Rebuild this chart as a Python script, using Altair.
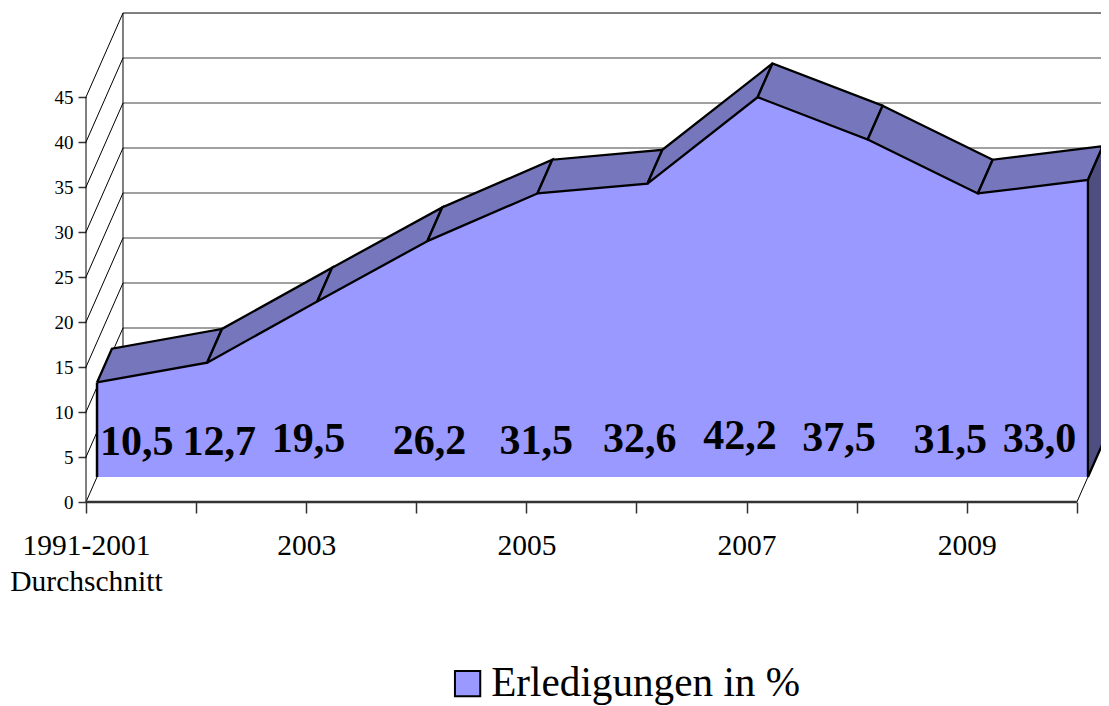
import json
import altair as alt
import pandas as pd

categories = ["1991-2001 Durchschnitt", "2002", "2003", "2004", "2005",
              "2006", "2007", "2008", "2009", "2010"]
values = [10.5, 12.7, 19.5, 26.2, 31.5, 32.6, 42.2, 37.5, 31.5, 33.0]
value_labels = ["10,5", "12,7", "19,5", "26,2", "31,5", "32,6", "42,2", "37,5", "31,5", "33,0"]
x_tick_labels = [["1991-2001", "Durchschnitt"], "", "2003", "", "2005", "", "2007", "", "2009", ""]
y_ticks = [0, 5, 10, 15, 20, 25, 30, 35, 40, 45]
series_name = "Erledigungen in %"

# where the value labels sit, in axis units
label_x = [0.46, 1.21, 2.02, 3.12, 4.09, 5.03, 5.94, 6.84, 7.85, 8.66]
label_y = [5.25, 5.25, 5.55, 5.35, 5.3, 5.55, 5.9, 5.65, 5.45, 5.55]

# oblique 3D projection, in axis units
DEPTH_X, DEPTH_Y = 0.336, 9.33
FRONT, BACK = 0.298, 0.70
SERIF = "Liberation Serif"
FACE, TOP, SIDE = "#9999FF", "#7676BC", "#4E4E80"
PLOT_W, PLOT_H = 1015, 489
X_MAX, Y_MAX = PLOT_W / 110.1, PLOT_H / 9.0
n = len(values)


def proj(i, v, d):
    return i + d * DEPTH_X, v + d * DEPTH_Y


def table(polys):
    rows = []
    for pid, pts in enumerate(polys):
        for o, (x, y) in enumerate(pts):
            rows.append({"poly": pid, "o": o, "x": x, "y": y})
    return pd.DataFrame(rows)


xs = alt.Scale(domain=[0, X_MAX], nice=False, zero=False)
ys = alt.Scale(domain=[0, Y_MAX], nice=False, zero=False)
x_axis = alt.Axis(
    values=list(range(n)), title=None, grid=False, domain=False,
    tickSize=11, tickColor="#333333", tickWidth=1.5,
    labelExpr=f"{json.dumps(x_tick_labels)}[datum.value]",
    labelFont=SERIF, labelFontSize=29.5, labelColor="black", labelPadding=18,
    labelOverlap=False, labelBound=False, labelFlush=False, labelLineHeight=36)
y_axis = alt.Axis(
    values=y_ticks, title=None, grid=False, domain=False,
    tickSize=8, tickColor="#333333", tickWidth=1.5,
    labelFont=SERIF, labelFontSize=19, labelColor="black", labelPadding=5,
    labelOverlap=False, labelBound=False)
X = alt.X("x:Q", scale=xs, axis=x_axis)
Y = alt.Y("y:Q", scale=ys, axis=y_axis, stack=None)


def lines(polys, **mark):
    return alt.Chart(table(polys)).mark_line(**mark).encode(
        x=X, y=Y, detail="poly:N", order=alt.Order("o:Q"),
    )


back_grid = lines([[proj(0, v, 1), (X_MAX, v + DEPTH_Y)] for v in y_ticks[:-1]],
                  stroke="#808080", strokeWidth=1.5)
wall_lines = lines(
    [[proj(0, v, 0), proj(0, v, 1)] for v in y_ticks]
    + [[proj(0, 0, 1), proj(0, y_ticks[-1], 1)],
       [proj(0, y_ticks[-1], 1), (X_MAX, y_ticks[-1] + DEPTH_Y)],
       [proj(0, 0, 0), proj(0, y_ticks[-1], 0)],
       [proj(n - 1, 0, 0), proj(n - 1, 0, 1)]],
    stroke="black", strokeWidth=1)
floor_line = lines([[(0, 0), (n - 1, 0)]], stroke="#333333", strokeWidth=2.5)

front_df = pd.DataFrame({
    "category": categories,
    "x": [proj(i, v, FRONT)[0] for i, v in enumerate(values)],
    "y": [proj(i, v, FRONT)[1] for i, v in enumerate(values)],
    "y2": [proj(i, 0, FRONT)[1] for i in range(n)],
    "series": series_name,
})
front = alt.Chart(front_df).mark_area(opacity=1).encode(
    x=X, y=Y, y2="y2:Q",
    color=alt.Color("series:N", scale=alt.Scale(range=[FACE]), legend=alt.Legend(
        title=None, orient="none", legendX=361, legendY=650, padding=0,
        symbolType="square", symbolSize=640, symbolStrokeColor="black",
        symbolStrokeWidth=2, symbolFillColor=FACE, symbolOpacity=1,
        labelFont=SERIF, labelFontSize=41.2, labelColor="black", labelLimit=500,
        labelOffset=3)),
)

quads = []
for i in range(n - 1):
    quads.append([proj(i, values[i], FRONT), proj(i + 1, values[i + 1], FRONT),
                  proj(i + 1, values[i + 1], BACK), proj(i, values[i], BACK),
                  proj(i, values[i], FRONT)])
ribbon = lines(quads, fill=TOP, stroke="black", strokeWidth=2.3)

last = n - 1
side = lines([[proj(last, 0, FRONT), proj(last, values[-1], FRONT),
               proj(last, values[-1], BACK), proj(last, 0, BACK),
               proj(last, 0, FRONT)]], fill=SIDE, stroke="black", strokeWidth=2.3)

front_edge = lines([[proj(0, 0, FRONT), proj(0, values[0], FRONT)]],
                   stroke="black", strokeWidth=2.5)

labels = alt.Chart(pd.DataFrame({"x": label_x, "y": label_y, "t": value_labels})).mark_text(
    font=SERIF, fontSize=42, fontWeight="bold", color="black",
    align="center", baseline="alphabetic").encode(x=X, y=Y, text="t:N")

chart = alt.layer(back_grid, wall_lines, floor_line, front, ribbon, side,
                  front_edge, labels).properties(
    width=PLOT_W, height=PLOT_H,
    autosize=alt.AutoSizeParams(type="none"),
    padding={"left": 78, "top": 5, "right": 0, "bottom": 204},
).configure_view(stroke=None)

chart.save("out.html", embed_options={"renderer": "svg", "actions": False})
